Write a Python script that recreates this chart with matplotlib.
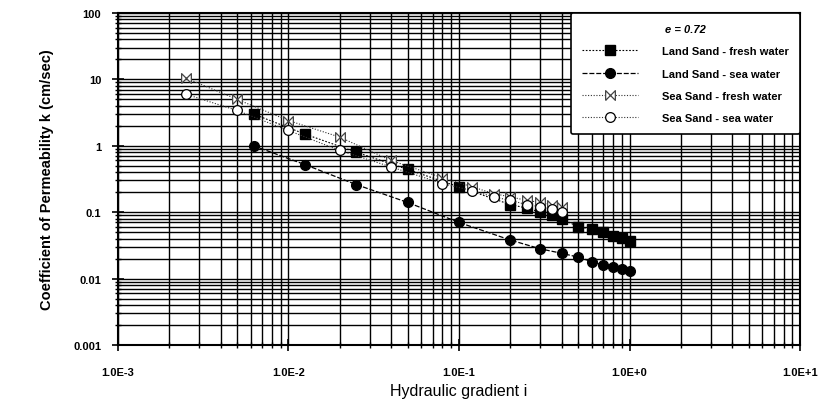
import matplotlib
matplotlib.use('Agg')
import matplotlib.pyplot as plt
import matplotlib.ticker as ticker
from matplotlib.path import Path

plt.rcParams['font.family'] = ['Liberation Sans', 'DejaVu Sans']

land_fresh_i = [0.00625, 0.0125, 0.025, 0.05, 0.1, 0.2, 0.25, 0.3, 0.35, 0.4, 0.5, 0.6, 0.7, 0.8, 0.9, 1.0]
land_fresh_k = [3.0, 1.5, 0.8, 0.44, 0.24, 0.13, 0.115, 0.1, 0.09, 0.08, 0.06, 0.056, 0.05, 0.044, 0.041, 0.037]

land_sea_i = [0.00625, 0.0125, 0.025, 0.05, 0.1, 0.2, 0.3, 0.4, 0.5, 0.6, 0.7, 0.8, 0.9, 1.0]
land_sea_k = [1.0, 0.52, 0.26, 0.14, 0.07, 0.038, 0.028, 0.024, 0.021, 0.018, 0.016, 0.015, 0.014, 0.013]

sea_fresh_i = [0.0025, 0.005, 0.01, 0.02, 0.04, 0.08, 0.12, 0.16, 0.2, 0.25, 0.3, 0.35, 0.4]
sea_fresh_k = [10.5, 5.0, 2.4, 1.35, 0.6, 0.33, 0.24, 0.19, 0.17, 0.15, 0.14, 0.13, 0.12]

sea_sea_i = [0.0025, 0.005, 0.01, 0.02, 0.04, 0.08, 0.12, 0.16, 0.2, 0.25, 0.3, 0.35, 0.4]
sea_sea_k = [6.0, 3.4, 1.7, 0.85, 0.48, 0.27, 0.21, 0.17, 0.15, 0.13, 0.12, 0.11, 0.10]

x_ticks = [1e-3, 1e-2, 1e-1, 1e0, 1e1]
x_labels = ['1.0E-3', '1.0E-2', '1.0E-1', '1.0E+0', '1.0E+1']
y_ticks = [0.001, 0.01, 0.1, 1, 10, 100]
y_labels = ['0.001', '0.01', '0.1', '1', '10', '100']

# bow-tie marker with a cross through it
bowtie = Path([(-1, -1), (-1, 1), (1, -1), (1, 1), (-1, -1)])

fig = plt.figure(figsize=(8.24, 4.06), dpi=100)
ax = fig.add_axes([0.143, 0.148, 0.828, 0.8175])
ax.set_xscale('log')
ax.set_yscale('log')
ax.set_xlim(1e-3, 1e1)
ax.set_ylim(1e-3, 1e2)

ax.plot(land_fresh_i, land_fresh_k, color='black', ls=(0, (1.5, 1.5)), lw=0.8,
        marker='s', ms=6.5, mfc='black', mec='black', label='Land Sand - fresh water', zorder=4)
ax.plot(land_sea_i, land_sea_k, color='black', ls=(0, (4, 1.5)), lw=0.9,
        marker='o', ms=7, mfc='black', mec='black', label='Land Sand - sea water', zorder=4)
ax.plot(sea_fresh_i, sea_fresh_k, color='#333333', ls=(0, (1, 1.5)), lw=0.8,
        marker=bowtie, ms=7, mfc='white', mec='#444444', mew=0.9,
        label='Sea Sand - fresh water', zorder=4)
ax.plot(sea_sea_i, sea_sea_k, color='#333333', ls=(0, (1, 1.5)), lw=0.8,
        marker='o', ms=7, mfc='white', mec='black', mew=0.9,
        label='Sea Sand - sea water', zorder=4)

ax.grid(True, which='both', color='black', lw=1.0)
ax.set_axisbelow(True)
ax.xaxis.set_major_locator(ticker.FixedLocator(x_ticks))
ax.xaxis.set_major_formatter(ticker.FixedFormatter(x_labels))
ax.yaxis.set_major_locator(ticker.FixedLocator(y_ticks))
ax.yaxis.set_major_formatter(ticker.FixedFormatter(y_labels))
ax.xaxis.set_minor_locator(ticker.LogLocator(base=10, subs=range(2, 10), numticks=20))
ax.yaxis.set_minor_locator(ticker.LogLocator(base=10, subs=range(2, 10), numticks=20))
ax.xaxis.set_minor_formatter(ticker.NullFormatter())
ax.yaxis.set_minor_formatter(ticker.NullFormatter())

ax.tick_params(axis='x', which='major', direction='inout', length=8, width=1.2, pad=12, labelsize=8)
ax.tick_params(axis='y', which='major', direction='inout', length=8, width=1.2, pad=8, labelsize=8)
ax.tick_params(which='minor', direction='inout', length=5, width=1)
for lab in ax.get_xticklabels() + ax.get_yticklabels():
    lab.set_fontweight('bold')
for sp in ax.spines.values():
    sp.set_linewidth(1.5)
    sp.set_color('black')

ax.set_xlabel('Hydraulic gradient i', fontsize=11.5, labelpad=4)
ax.set_ylabel('Coefficient of Permeability k (cm/sec)', fontsize=10.5, fontweight='bold', labelpad=14)

leg = ax.legend(loc='upper right', borderaxespad=0, fancybox=True, framealpha=1,
                edgecolor='black', title='e = 0.72', prop={'weight': 'bold', 'size': 8},
                handlelength=5, borderpad=1.0, labelspacing=1.1, handletextpad=2.2)
leg.get_title().set_fontweight('bold')
leg.get_title().set_fontstyle('italic')
leg.get_title().set_fontsize(8)
leg.get_frame().set_linewidth(1.2)
leg.set_zorder(10)

fig.savefig('out.png', dpi=100, facecolor='white')
